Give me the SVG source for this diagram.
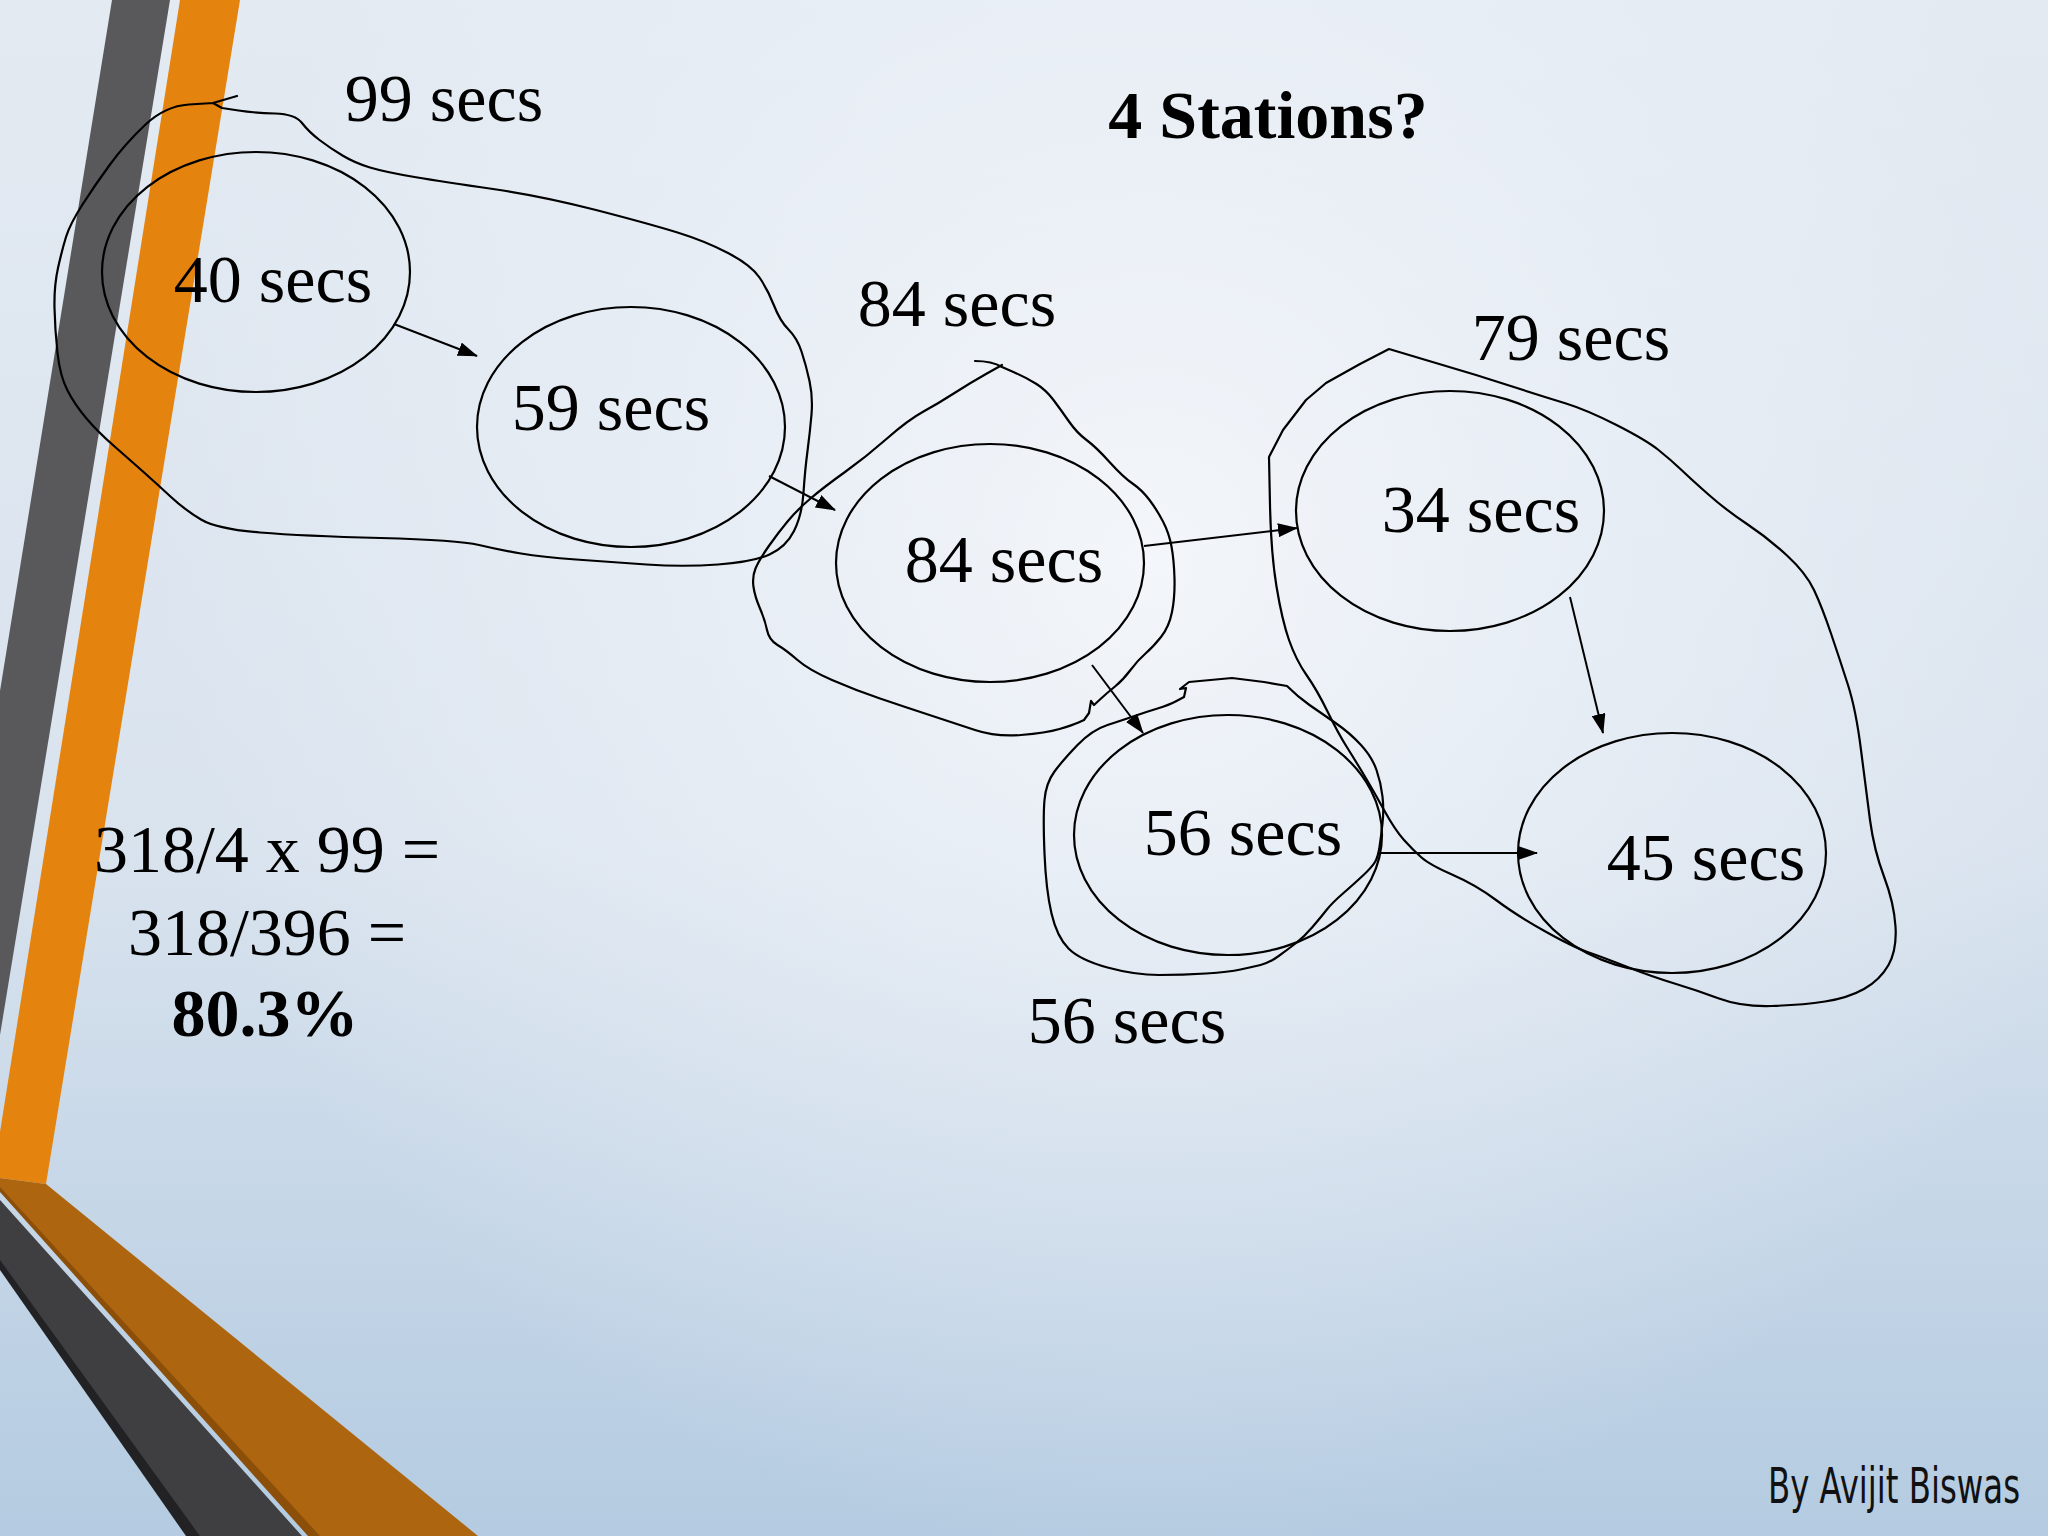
<svg xmlns="http://www.w3.org/2000/svg" width="2048" height="1536" viewBox="0 0 2048 1536">
<defs>
<linearGradient id="bg" x1="0" y1="0" x2="0" y2="1">
<stop offset="0" stop-color="#e3eaf2"/>
<stop offset="0.55" stop-color="#d9e3ee"/>
<stop offset="1" stop-color="#b4cbe1"/>
</linearGradient>
<radialGradient id="hl" gradientUnits="userSpaceOnUse" cx="1150" cy="560" r="1000">
<stop offset="0" stop-color="#f7f9fc" stop-opacity="0.85"/>
<stop offset="0.6" stop-color="#f2f5fa" stop-opacity="0.35"/>
<stop offset="1" stop-color="#f2f5fa" stop-opacity="0"/>
</radialGradient>
<marker id="arr" markerUnits="userSpaceOnUse" markerWidth="20" markerHeight="14" refX="19" refY="7" orient="auto">
<path d="M0,0 L20,7 L0,14 Z" fill="#000"/>
</marker>
<style>
.node ellipse{fill:none;stroke:#000;stroke-width:2.2}
.lbl{font-family:"Liberation Serif","Times New Roman",serif;font-size:68px;fill:#000;text-anchor:middle}
.b{font-weight:bold}
.sketch{fill:none;stroke:#000;stroke-width:2.2;stroke-linejoin:round;stroke-linecap:round}
.conn line{stroke:#000;stroke-width:2}
</style>
</defs>

<rect width="2048" height="1536" fill="url(#bg)"/>
<rect width="2048" height="1536" fill="url(#hl)"/>

<g id="decor">
<polygon points="112,0 170,0 0,1035 0,691" fill="#59595b"/>
<polygon points="180,0 240,0 46,1184 0,1178 0,1132" fill="#e5830f"/>
<polygon points="0,1178 46,1184 478,1536 318,1536 0,1189" fill="#ad6510"/>
<polygon points="0,1187 0,1192 308,1536 320,1536" fill="#8c4f0a"/>
<polygon points="0,1200 302,1536 198,1536 0,1262" fill="#3f3f41"/>
<polygon points="0,1260 0,1270 186,1536 200,1536" fill="#222224"/>
</g>

<g id="groupings">
<path id="outline-99" class="sketch" d="M237,96 L213,103 L222,108 L238.5,110.5 Q255,113 275,113.5 Q295,114 302,123 Q309,132 319.5,140 Q330,148 342.5,155.5 Q355,163 370,167.5 Q385,172 414.5,177 Q444,182 493,189 Q542,196 596,210 Q650,224 677.5,232.5 Q705,241 728,253 Q751,265 759.5,277.5 Q768,290 774,305.5 Q780,321 788.5,329.5 Q797,338 801.5,351.5 Q806,365 809.5,381 Q813,397 811.5,414.5 Q810,432 807.5,451 Q805,470 803.5,492.5 Q802,515 794,531 Q786,547 769.5,554.5 Q753,562 718,564.5 Q683,567 646.5,564.5 Q610,562 576,559.5 Q542,557 521,553.5 Q500,550 479,545 Q458,540 380.5,538 Q303,536 260,532.5 Q217,529 201,519.5 Q185,510 171,497 Q157,484 143.5,472 Q130,460 114,446 Q98,432 86.5,418.5 Q75,405 67.5,390.5 Q60,376 57.5,353 Q55,330 54.5,308 Q54,286 58,268 Q62,250 66,237 Q70,224 82.5,204.5 Q95,185 110,164.5 Q125,144 145,125 Q165,106 189,104.5 L213,103"/>
<path id="outline-84" class="sketch" d="M975,361 Q992,361 1002,367 L1014.5,372.5 Q1027,378 1036.5,384 Q1046,390 1053.5,400 Q1061,410 1069,421.5 Q1077,433 1086.5,440 Q1096,447 1109.5,462 Q1123,477 1132.5,483.5 Q1142,490 1149.5,500 Q1157,510 1163,521.5 Q1169,533 1171.5,546.5 Q1174,560 1174.5,578.5 Q1175,597 1172,612 Q1169,627 1161,637 Q1153,647 1145.5,653.5 Q1138,660 1130.5,670 Q1123,680 1115,686.5 Q1107,693 1100.5,699 L1094,705 L1091,701 L1089,713 L1084,720 L1078.5,722.5 Q1073,725 1059.5,729 Q1046,733 1021,735 Q996,737 975,730 Q954,723 929.5,715 Q905,707 880,698.5 Q855,690 832,680 Q809,670 797.5,660 Q786,650 777.5,645 Q769,640 767,630 Q765,620 760,608.5 Q755,597 753.5,587 Q752,577 755.5,568.5 Q759,560 768.5,546.5 Q778,533 787.5,521.5 Q797,510 810.5,498.5 Q824,487 845,472 Q866,457 887,438.5 Q908,420 923.5,411.5 Q939,403 954.5,393 Q970,383 986,374 L1002,365"/>
<path id="outline-79" class="sketch" d="M1269,457 L1283,430 L1306,400 L1326,383 L1360,364 L1389,349 L1476,375 L1545,397 L1566,403.5 Q1587,410 1616.5,425 Q1646,440 1658.5,450 Q1671,460 1681.5,470 Q1692,480 1709,495 Q1726,510 1747,524 Q1768,538 1787,555.5 Q1806,573 1814,590 Q1822,607 1831,633.5 Q1840,660 1848,685 Q1856,710 1861,750 Q1866,790 1870,820 Q1874,850 1884,876.5 Q1894,903 1895.5,926.5 Q1897,950 1888.5,965 Q1880,980 1864,989 Q1848,998 1825,1001.5 Q1802,1005 1772,1006 Q1742,1007 1719,998.5 Q1696,990 1674.5,983.5 Q1653,977 1627.5,967 Q1602,957 1587.5,952 Q1573,947 1544.5,931 Q1516,915 1496,900 Q1476,885 1453,875 Q1430,865 1421.5,857.5 Q1413,850 1404,840 Q1395,830 1384,810 Q1373,790 1364,775 Q1355,760 1346.5,746.5 Q1338,733 1327.5,711.5 Q1317,690 1306.5,675 Q1296,660 1289,640 Q1282,620 1276.5,586.5 Q1271,553 1270,505 L1269,457 Z"/>
<path id="outline-56" class="sketch" d="M1180,689 L1189,682 L1232,678 L1264,682 L1287,686 Q1298,697 1309.5,705 Q1321,713 1335.5,723 Q1350,733 1361,745 Q1372,757 1376.5,770 Q1381,783 1382.5,796.5 Q1384,810 1382.5,823.5 Q1381,837 1379.5,847 Q1378,857 1375,862 Q1372,867 1363.5,875 Q1355,883 1343.5,893 Q1332,903 1326.5,910 Q1321,917 1312.5,927 Q1304,937 1295.5,943.5 Q1287,950 1278,956.5 Q1269,963 1260.5,965 Q1252,967 1240.5,969.5 Q1229,972 1206,973.5 Q1183,975 1159,975 Q1135,975 1107.5,967.5 Q1080,960 1068.5,948.5 Q1057,937 1051.5,913.5 Q1046,890 1044.5,853.5 Q1043,817 1044.5,800 Q1046,783 1054.5,771.5 Q1063,760 1077.5,745 Q1092,730 1107.5,725 Q1123,720 1134.5,716 Q1146,712 1157.5,708.5 Q1169,705 1176.5,701 L1184,697 L1186,688 L1180,689"/>
</g>

<g id="connectors" class="conn">
<line x1="394" y1="324" x2="477" y2="356" marker-end="url(#arr)"/>
<line x1="769" y1="476" x2="835" y2="510" marker-end="url(#arr)"/>
<line x1="1144" y1="546" x2="1297" y2="528" marker-end="url(#arr)"/>
<line x1="1092" y1="665" x2="1143" y2="733" marker-end="url(#arr)"/>
<line x1="1570" y1="597" x2="1603" y2="733" marker-end="url(#arr)"/>
<line x1="1381" y1="853" x2="1537" y2="853" marker-end="url(#arr)"/>
</g>

<g id="n40" class="node"><ellipse cx="256" cy="272" rx="154" ry="120"/><text class="lbl" x="273" y="302">40 secs</text></g>
<g id="n59" class="node"><ellipse cx="631" cy="427" rx="154" ry="120"/><text class="lbl" x="611" y="430">59 secs</text></g>
<g id="n84" class="node"><ellipse cx="990" cy="563" rx="154" ry="119"/><text class="lbl" x="1004" y="582">84 secs</text></g>
<g id="n34" class="node"><ellipse cx="1450" cy="511" rx="154" ry="120"/><text class="lbl" x="1481" y="532">34 secs</text></g>
<g id="n56" class="node"><ellipse cx="1228" cy="835" rx="154" ry="120"/><text class="lbl" x="1243" y="855">56 secs</text></g>
<g id="n45" class="node"><ellipse cx="1672" cy="853" rx="154" ry="120"/><text class="lbl" x="1706" y="880">45 secs</text></g>

<g id="labels">
<text class="lbl" x="444" y="121">99 secs</text>
<text class="lbl" x="957" y="326">84 secs</text>
<text class="lbl" x="1571" y="360">79 secs</text>
<text class="lbl" x="1127" y="1043">56 secs</text>
<text class="lbl b" x="1268" y="138" font-size="67">4 Stations?</text>
<text class="lbl" x="267" y="872">318/4 x 99 =</text>
<text class="lbl" x="267" y="955">318/396 =</text>
<text class="lbl b" x="265" y="1036">80.3%</text>
<text transform="translate(2020,1503) scale(0.72,1)" x="0" y="0" text-anchor="end" font-family="'Liberation Sans Narrow','DejaVu Sans Condensed',sans-serif" font-size="50" fill="#111">By Avijit Biswas</text>
</g>
</svg>
